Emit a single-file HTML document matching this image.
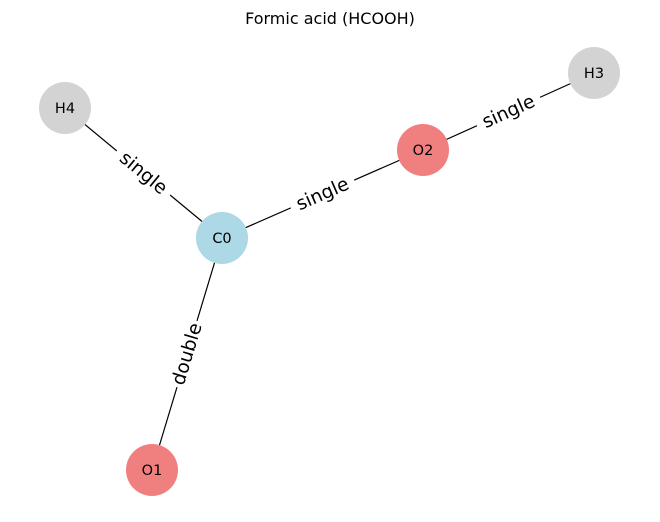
<!DOCTYPE html>
<html><head><meta charset="utf-8"><style>
html,body{margin:0;padding:0;background:#fff;}
svg{display:block;font-family:"DejaVu Sans","Liberation Sans",sans-serif;}
</style></head><body>
<svg id="chart" width="660" height="522" viewBox="0 0 660 522">
<text x="330" y="24" text-anchor="middle" font-size="16" fill="#000">Formic acid (HCOOH)</text>
<g id="edges"></g><g id="nodes"></g><g id="labels"></g>
</svg>
<script>
const nodeNames = ["C0","O1","O2","H3","H4"];
const nodeX = [222,152,423,594,65];
const nodeY = [238,470,150,73,108];
const nodeColors = ["#add8e6","#f08080","#f08080","#d3d3d3","#d3d3d3"];
const edgeFrom = [0,0,0,2];
const edgeTo = [4,2,1,3];
const edgeLabels = ["single","single","double","single"];
const NS="http://www.w3.org/2000/svg";
const gE=document.getElementById('edges'),gN=document.getElementById('nodes'),gL=document.getElementById('labels');
function mk(t,a){const e=document.createElementNS(NS,t);for(const k in a)e.setAttribute(k,a[k]);return e;}
for(let i=0;i<edgeFrom.length;i++){
  const a=edgeFrom[i],b=edgeTo[i];
  const x1=nodeX[a],y1=nodeY[a],x2=nodeX[b],y2=nodeY[b];
  const l=mk('line',{x1:x1,y1:y1,x2:x2,y2:y2,stroke:'#000','stroke-width':1.2});
  
  
  gE.appendChild(l);
  const mx=(x1+x2)/2,my=(y1+y2)/2;
  let ang=Math.atan2(y2-y1,x2-x1)*180/Math.PI;
  if(ang>90)ang-=180; if(ang<-90)ang+=180;
  const g=mk('g',{transform:`translate(${mx},${my}) rotate(${ang})`});
  
  
  const w=edgeLabels[i].length*10.2+8;
  g.appendChild(mk('rect',{x:-w/2,y:-12,width:w,height:24,fill:'#fff'}));
  const t=mk('text',{x:0,y:6,'text-anchor':'middle','font-size':18.7,fill:'#000'});
  t.textContent=edgeLabels[i];
  g.appendChild(t);
  gL.appendChild(g);
}
for(let i=0;i<nodeNames.length;i++){
  const g=mk('g',{});
  
  
  g.appendChild(mk('circle',{cx:nodeX[i],cy:nodeY[i],r:26,fill:nodeColors[i]}));
  const t=mk('text',{x:nodeX[i],y:nodeY[i]+5,'text-anchor':'middle','font-size':14.5,fill:'#000'});
  t.textContent=nodeNames[i];
  g.appendChild(t);
  gN.appendChild(g);
}
</script>
</body></html>
